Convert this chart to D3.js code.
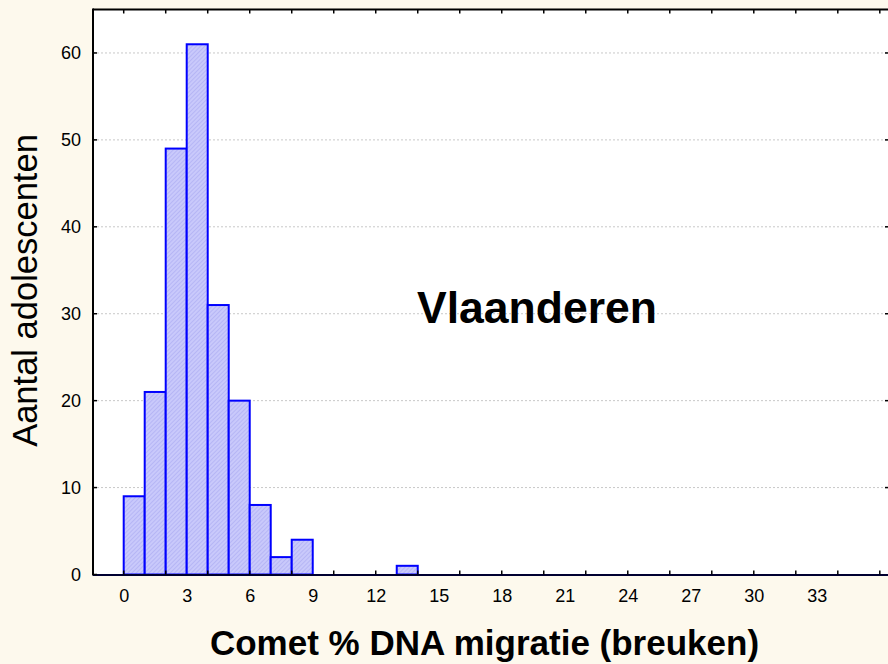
<!DOCTYPE html>
<html>
<head>
<meta charset="utf-8">
<script src="https://cdn.jsdelivr.net/npm/d3@7"></script>
<style>
  body { margin: 0; background: #fdf9ed; }
  svg { display: block; font-family: "Liberation Sans", Arial, sans-serif; }
</style>
</head>
<body>
<svg id="chart" width="888" height="664"></svg>
<script>
// histogram bins (left edge, width 1) and counts
const binStarts = [0, 1, 2, 3, 4, 5, 6, 7, 8, 13];
const counts = [9, 21, 49, 61, 31, 20, 8, 2, 4, 1];
const xLabels = [0, 3, 6, 9, 12, 15, 18, 21, 24, 27, 30, 33];
const xTicks = [0, 2, 4, 6, 8, 10, 12, 14, 16, 18, 20, 22, 24, 26, 28, 30, 32, 34, 36];
const yTicks = [0, 10, 20, 30, 40, 50, 60];

const svg = d3.select("#chart");

const plotL = 93, plotR = 888, plotT = 9.5, plotB = 574.5;

const x = d3.scaleLinear().domain([-1.462, 36.39]).range([plotL, plotR]);
const y = d3.scaleLinear().domain([0, 65]).range([plotB, plotT]);

// hatch pattern for the bars
const defs = svg.append("defs");
const pat = defs.append("pattern")
    .attr("id", "hatch")
    .attr("patternUnits", "userSpaceOnUse")
    .attr("width", 3).attr("height", 3)
    .attr("patternTransform", "rotate(45)");
pat.append("rect").attr("width", 3).attr("height", 3).attr("fill", "#c9c9fb");
pat.append("line").attr("x1", 0).attr("y1", 0).attr("x2", 0).attr("y2", 3)
    .attr("stroke", "#aaaaf2").attr("stroke-width", 1.2);

// plot area
svg.append("rect")
    .attr("x", plotL).attr("y", plotT)
    .attr("width", plotR - plotL).attr("height", plotB - plotT)
    .attr("fill", "#ffffff");

// dotted grid
svg.append("g")
    .selectAll("line")
    .data(yTicks.filter(d => d > 0))
    .join("line")
    .attr("x1", plotL).attr("x2", plotR)
    .attr("y1", d => y(d)).attr("y2", d => y(d))
    .attr("stroke", "#c8c8c8")
    .attr("stroke-width", 1)
    .attr("stroke-dasharray", "2,2");

// bars
svg.append("g")
    .selectAll("rect")
    .data(binStarts.map((b, i) => ({ b, v: counts[i] })))
    .join("rect")
    .attr("x", d => x(d.b))
    .attr("y", d => y(d.v))
    .attr("width", d => x(d.b + 1) - x(d.b))
    .attr("height", d => y(0) - y(d.v))
    .attr("fill", "url(#hatch)")
    .attr("stroke", "#0000ff")
    .attr("stroke-width", 2);

// frame lines
svg.append("line").attr("x1", plotL).attr("x2", plotR).attr("y1", plotT).attr("y2", plotT)
    .attr("stroke", "#000").attr("stroke-width", 2);
svg.append("line").attr("x1", plotL).attr("x2", plotL).attr("y1", plotT - 1).attr("y2", plotB + 1)
    .attr("stroke", "#000").attr("stroke-width", 2);
svg.append("line").attr("x1", plotL).attr("x2", plotR).attr("y1", plotB + 0.5).attr("y2", plotB + 0.5)
    .attr("stroke", "#000030").attr("stroke-width", 2);

// tick marks (inward)
const tickG = svg.append("g").attr("stroke", "#000").attr("stroke-width", 1.5);
tickG.selectAll(".tb").data(xTicks).join("line").attr("class", "tb")
    .attr("x1", d => x(d)).attr("x2", d => x(d))
    .attr("y1", plotB).attr("y2", plotB - 4);
tickG.selectAll(".tt").data(xTicks).join("line").attr("class", "tt")
    .attr("x1", d => x(d)).attr("x2", d => x(d))
    .attr("y1", plotT).attr("y2", plotT + 4);
tickG.selectAll(".tl").data(yTicks).join("line").attr("class", "tl")
    .attr("x1", plotL).attr("x2", plotL + 4)
    .attr("y1", d => y(d)).attr("y2", d => y(d));
tickG.selectAll(".tr").data(yTicks.filter(d => d > 0)).join("line").attr("class", "tr")
    .attr("x1", plotR - 3).attr("x2", plotR)
    .attr("y1", d => y(d)).attr("y2", d => y(d));

// x labels via axis
const xAxis = svg.append("g")
    .attr("transform", `translate(0,${plotB})`)
    .call(d3.axisBottom(x).tickValues(xLabels).tickSize(0).tickPadding(0));
xAxis.select(".domain").remove();
xAxis.selectAll("text")
    .attr("y", 27.5).attr("dy", null)
    .attr("font-size", 18).attr("fill", "#000")
    .style("font-family", "Liberation Sans, Arial, sans-serif");

// y labels via axis
const yAxis = svg.append("g")
    .attr("transform", `translate(${plotL},0)`)
    .call(d3.axisLeft(y).tickValues(yTicks).tickSize(0).tickPadding(12));
yAxis.select(".domain").remove();
yAxis.selectAll("text")
    .attr("font-size", 18).attr("fill", "#000")
    .style("font-family", "Liberation Sans, Arial, sans-serif");

// titles
svg.append("text")
    .attr("transform", "translate(37,290.5) rotate(-90)")
    .attr("text-anchor", "middle")
    .attr("font-size", 34.5)
    .text("Aantal adolescenten");

svg.append("text")
    .attr("x", 484.5).attr("y", 655)
    .attr("text-anchor", "middle")
    .attr("font-size", 35)
    .attr("font-weight", "bold")
    .text("Comet % DNA migratie (breuken)");

svg.append("text")
    .attr("x", 537).attr("y", 323)
    .attr("text-anchor", "middle")
    .attr("font-size", 44.5)
    .attr("font-weight", "bold")
    .text("Vlaanderen");
</script>
</body>
</html>
